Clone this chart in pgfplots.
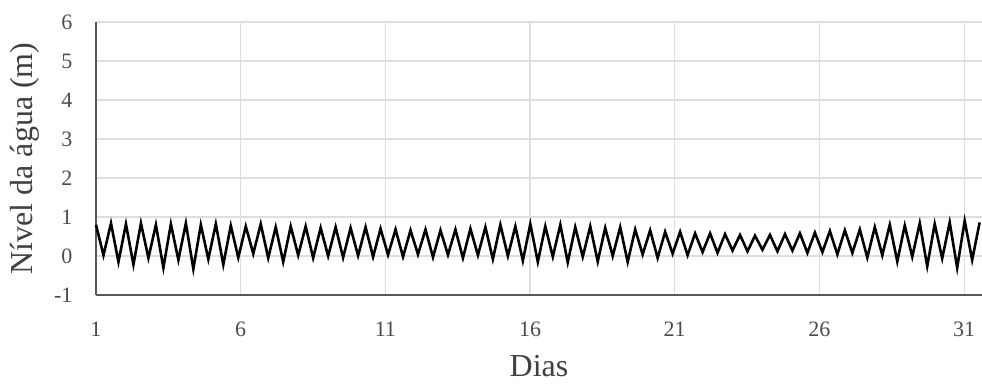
\documentclass[border=0pt]{standalone}
\usepackage{pgfplots}
\pgfplotsset{compat=1.18}
\usepackage{fontspec}
\setmainfont{Liberation Serif}
\begin{document}
\begin{tikzpicture}
\path[use as bounding box] (-96pt,-89pt) rectangle (886pt,295pt);
\begin{axis}[
  scale only axis,
  width=886pt, height=273pt,
  xmin=1, xmax=31.62, ymin=-1, ymax=6,
  axis lines=left,
  axis line style={-, draw=black!65, line width=1.6pt},
  xtick={1,6,11,16,21,26,31},
  ytick={-1,0,1,2,3,4,5,6},
  major tick length=0pt,
  grid=major,
  major grid style={draw=black!13, line width=1.1pt},
  /pgf/number format/assume math mode=true,
  ticklabel style={font=\fontsize{22}{26}\selectfont, text=black!70},
  yticklabel style={xshift=-20pt},
  xticklabel style={yshift=-23pt},
  label style={font=\fontsize{32}{38}\selectfont, text=black!75},
  xlabel={Dias},
  ylabel={Nível da água (m)},
  xlabel style={at={(axis description cs:0.5,-0.297)}, anchor=base},
  ylabel style={at={(axis description cs:-0.0801,0.5)}, anchor=center},
  clip=false,
]
\addplot[black, line width=2.6pt] coordinates {
(1.000,0.80) (1.259,0.02) (1.518,0.84) (1.776,-0.15) (2.035,0.82) (2.294,-0.22)
(2.553,0.84) (2.812,-0.05) (3.070,0.80) (3.329,-0.30) (3.588,0.82) (3.847,-0.10)
(4.106,0.84) (4.364,-0.33) (4.623,0.80) (4.882,-0.08) (5.141,0.82) (5.400,-0.22)
(5.658,0.78) (5.917,-0.04) (6.176,0.76) (6.435,0.06) (6.694,0.82) (6.952,-0.05)
(7.211,0.74) (7.470,-0.15) (7.729,0.76) (7.988,0.02) (8.246,0.76) (8.505,-0.05)
(8.764,0.72) (9.023,0.00) (9.282,0.74) (9.540,-0.04) (9.799,0.72) (10.058,0.01)
(10.317,0.74) (10.576,-0.02) (10.834,0.70) (11.093,0.03) (11.352,0.68) (11.611,-0.02)
(11.870,0.66) (12.128,0.04) (12.387,0.68) (12.646,-0.03) (12.905,0.66) (13.164,0.03)
(13.422,0.68) (13.681,-0.05) (13.940,0.70) (14.199,0.02) (14.458,0.74) (14.716,-0.08)
(14.975,0.80) (15.234,0.00) (15.493,0.76) (15.752,-0.12) (16.010,0.82) (16.269,-0.15)
(16.528,0.76) (16.787,-0.02) (17.046,0.80) (17.304,-0.16) (17.563,0.74) (17.822,-0.02)
(18.081,0.76) (18.340,-0.14) (18.598,0.72) (18.857,0.00) (19.116,0.74) (19.375,-0.15)
(19.634,0.68) (19.892,0.04) (20.151,0.66) (20.410,-0.05) (20.669,0.62) (20.928,0.06)
(21.186,0.62) (21.445,0.02) (21.704,0.58) (21.963,0.10) (22.222,0.58) (22.480,0.08)
(22.739,0.56) (22.998,0.14) (23.257,0.54) (23.516,0.12) (23.774,0.52) (24.033,0.16)
(24.292,0.54) (24.551,0.12) (24.810,0.56) (25.068,0.14) (25.327,0.58) (25.586,0.08)
(25.845,0.60) (26.104,0.10) (26.362,0.64) (26.621,0.04) (26.880,0.66) (27.139,0.08)
(27.398,0.68) (27.656,-0.04) (27.915,0.74) (28.174,0.02) (28.433,0.80) (28.692,-0.14)
(28.950,0.78) (29.209,-0.02) (29.468,0.84) (29.727,-0.26) (29.986,0.82) (30.244,-0.06)
(30.503,0.86) (30.762,-0.30) (31.021,0.90) (31.280,-0.10) (31.538,0.86)
};
\end{axis}
\end{tikzpicture}
\end{document}
